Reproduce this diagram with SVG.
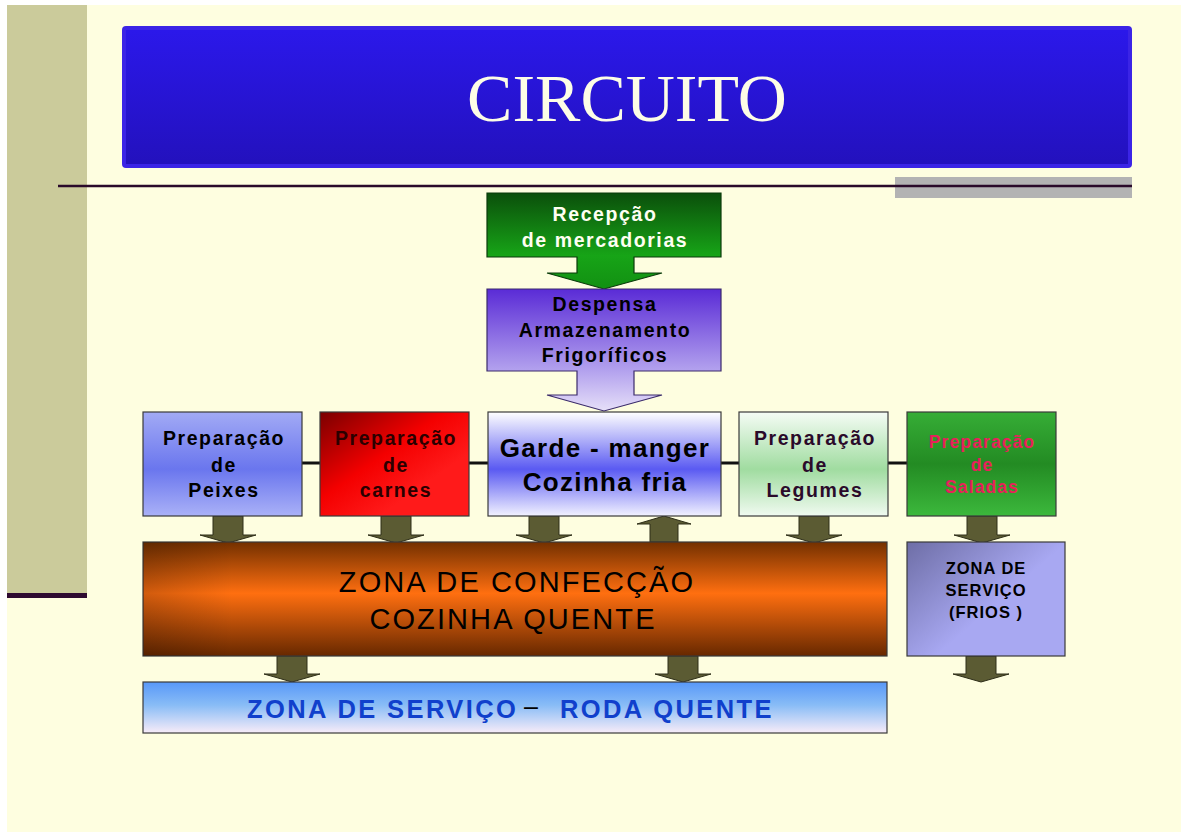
<svg xmlns="http://www.w3.org/2000/svg" width="1181" height="832" viewBox="0 0 1181 832">
<defs>
<style>
.b{font-family:"Liberation Sans",Arial,sans-serif;font-weight:bold;text-anchor:middle}
.m{font-size:19.5px;letter-spacing:1.6px}
.n{font-family:"Liberation Sans",Arial,sans-serif;text-anchor:middle}
.box{stroke:#3a3a3a;stroke-width:1.2}
.arr{fill:#5b5b33;stroke:#2e2e18;stroke-width:1}
.link{stroke:#111;stroke-width:3}
</style>
<linearGradient id="gTitle" x1="0" y1="0" x2="0" y2="1"><stop offset="0" stop-color="#2b18ea"/><stop offset="1" stop-color="#2311bd"/></linearGradient>
<linearGradient id="gRec" gradientUnits="userSpaceOnUse" x1="0" y1="193" x2="0" y2="289"><stop offset="0" stop-color="#0b4f0b"/><stop offset="0.65" stop-color="#17a417"/><stop offset="1" stop-color="#129012"/></linearGradient>
<linearGradient id="gDesp" gradientUnits="userSpaceOnUse" x1="0" y1="289" x2="0" y2="411"><stop offset="0" stop-color="#5a2bd6"/><stop offset="0.67" stop-color="#b3a2ee"/><stop offset="1" stop-color="#e6dff8"/></linearGradient>
<linearGradient id="gPeix" x1="0" y1="0" x2="0" y2="1"><stop offset="0" stop-color="#a2aaf5"/><stop offset="0.55" stop-color="#6a76ee"/><stop offset="1" stop-color="#aab1f7"/></linearGradient>
<linearGradient id="gCarn" x1="0" y1="0" x2="0.7" y2="0.7"><stop offset="0" stop-color="#7a0000"/><stop offset="0.6" stop-color="#f40000"/><stop offset="1" stop-color="#ff1a1a"/></linearGradient>
<linearGradient id="gGarde" x1="0" y1="0" x2="0" y2="1"><stop offset="0" stop-color="#ffffff"/><stop offset="0.55" stop-color="#5a5af2"/><stop offset="1" stop-color="#f2f2ff"/></linearGradient>
<linearGradient id="gLeg" x1="0" y1="0" x2="0" y2="1"><stop offset="0" stop-color="#f5fcf5"/><stop offset="0.55" stop-color="#a0dca0"/><stop offset="1" stop-color="#f0faf0"/></linearGradient>
<linearGradient id="gSal" x1="0" y1="0" x2="0" y2="1"><stop offset="0" stop-color="#36ad36"/><stop offset="0.5" stop-color="#238b23"/><stop offset="1" stop-color="#3cb83c"/></linearGradient>
<linearGradient id="gOr" x1="0" y1="0" x2="0" y2="1"><stop offset="0" stop-color="#733000"/><stop offset="0.45" stop-color="#ff6f10"/><stop offset="1" stop-color="#672800"/></linearGradient>
<linearGradient id="gOrL" x1="0" y1="0" x2="1" y2="0"><stop offset="0" stop-color="#000" stop-opacity="0.18"/><stop offset="0.12" stop-color="#000" stop-opacity="0"/></linearGradient>
<linearGradient id="gRoda" x1="0" y1="0" x2="0" y2="1"><stop offset="0" stop-color="#5898f8"/><stop offset="0.45" stop-color="#88bcf6"/><stop offset="1" stop-color="#f8ecf8"/></linearGradient>
<linearGradient id="gFrio" x1="0" y1="0" x2="0.6" y2="0.5"><stop offset="0" stop-color="#6e6ea6"/><stop offset="1" stop-color="#a8a8f2"/></linearGradient>
</defs>

<rect x="0" y="0" width="1181" height="832" fill="#ffffff"/>
<rect x="7" y="5" width="1174" height="827" fill="#fefee0"/>
<rect x="7" y="5" width="80" height="588" fill="#cbcb9b"/>
<rect x="7" y="593" width="80" height="5" fill="#2e0a30"/>

<g id="title">
<rect x="122" y="26" width="1010" height="142" rx="4" fill="#3b24e6"/>
<rect x="126" y="30" width="1002" height="134" fill="url(#gTitle)"/>
<text x="627" y="121" font-family="'Liberation Serif','Times New Roman',serif" font-size="68" fill="#fdfde6" text-anchor="middle">CIRCUITO</text>
</g>
<rect x="895" y="177" width="237" height="21" fill="#b3b3b3"/>
<line x1="58" y1="186" x2="1132" y2="186" stroke="#2a0a2a" stroke-width="2.5"/>

<g id="connectors">
<line class="link" x1="302" y1="463" x2="320" y2="463"/>
<line class="link" x1="469" y1="463" x2="488" y2="463"/>
<line class="link" x1="721" y1="463" x2="739" y2="463"/>
<line class="link" x1="888" y1="463" x2="907" y2="463"/>
<path class="arr" d="M213,516 H243 V535 H256 L228,543 L200,535 H213 Z"/>
<path class="arr" d="M381,516 H411 V535 H424 L396,543 L368,535 H381 Z"/>
<path class="arr" d="M529,516 H559 V535 H572 L544,543 L516,535 H529 Z"/>
<path class="arr" d="M799,516 H829 V535 H842 L814,543 L786,535 H799 Z"/>
<path class="arr" d="M967,516 H997 V535 H1010 L982,543 L954,535 H967 Z"/>
<path class="arr" d="M650,542 V524 H637 L664,516 L691,524 H678 V542 Z"/>
<path class="arr" d="M277,656 H307 V674 H320 L292,682 L264,674 H277 Z"/>
<path class="arr" d="M668,656 H698 V674 H711 L683,682 L655,674 H668 Z"/>
<path class="arr" d="M966,656 H996 V674 H1009 L981,682 L953,674 H966 Z"/>
</g>

<g id="recepcao">
<path d="M487,193 H721 V257 H634 V273 H662 L604,289 L547,273 H577 V257 H487 Z" fill="url(#gRec)" stroke="#0a3a0a" stroke-width="1.2"/>
<text class="b m" x="605" y="221" fill="#fffff2">Recepção</text>
<text class="b m" x="605" y="247" fill="#fffff2">de mercadorias</text>
</g>

<g id="despensa">
<path d="M487,289 H721 V371 H634 V395 H662 L604,411 L547,395 H577 V371 H487 Z" fill="url(#gDesp)" stroke="#3a2a6a" stroke-width="1.2"/>
<text class="b m" x="605" y="311" fill="#000">Despensa</text>
<text class="b m" x="605" y="337" fill="#000">Armazenamento</text>
<text class="b m" x="605" y="362" fill="#000">Frigoríficos</text>
</g>

<g id="peixes">
<rect class="box" x="143" y="412" width="159" height="104" fill="url(#gPeix)"/>
<text class="b m" x="224" y="445" fill="#000">Preparação</text>
<text class="b m" x="224" y="472" fill="#000">de</text>
<text class="b m" x="224" y="497" fill="#000">Peixes</text>
</g>

<g id="carnes">
<rect class="box" x="320" y="412" width="149" height="104" fill="url(#gCarn)"/>
<text class="b m" x="396" y="445" fill="#2a0000">Preparação</text>
<text class="b m" x="396" y="472" fill="#2a0000">de</text>
<text class="b m" x="396" y="497" fill="#2a0000">carnes</text>
</g>

<g id="garde">
<rect class="box" x="488" y="412" width="233" height="104" fill="url(#gGarde)"/>
<text class="b" x="605" y="457" font-size="26" letter-spacing="1.3" fill="#000">Garde - manger</text>
<text class="b" x="605" y="491" font-size="26" letter-spacing="1.3" fill="#000">Cozinha fria</text>
</g>

<g id="legumes">
<rect class="box" x="739" y="412" width="149" height="104" fill="url(#gLeg)"/>
<text class="b m" x="815" y="445" fill="#2a0a2a">Preparação</text>
<text class="b m" x="815" y="472" fill="#2a0a2a">de</text>
<text class="b m" x="815" y="497" fill="#2a0a2a">Legumes</text>
</g>

<g id="saladas">
<rect class="box" x="907" y="412" width="149" height="104" fill="url(#gSal)"/>
<text class="b" x="982" y="448" font-size="17.5" letter-spacing="1.1" fill="#e8205a">Preparação</text>
<text class="b" x="982" y="471" font-size="17.5" letter-spacing="1.1" fill="#e8205a">de</text>
<text class="b" x="982" y="493" font-size="17.5" letter-spacing="1.1" fill="#e8205a">Saladas</text>
</g>

<g id="confeccao">
<rect class="box" x="143" y="542" width="744" height="114" fill="url(#gOr)"/>
<rect x="143" y="542" width="744" height="114" fill="url(#gOrL)"/>
<text class="n" x="517" y="592" font-size="29" letter-spacing="2.1" fill="#000">ZONA DE CONFECÇÃO</text>
<text class="n" x="513" y="629" font-size="29" letter-spacing="2.1" fill="#000">COZINHA QUENTE</text>
</g>

<g id="frios">
<rect class="box" x="907" y="542" width="158" height="114" fill="url(#gFrio)"/>
<text class="b" x="986" y="574" font-size="16.5" letter-spacing="1" fill="#000">ZONA DE</text>
<text class="b" x="986" y="596" font-size="16.5" letter-spacing="1" fill="#000">SERVIÇO</text>
<text class="b" x="986" y="618" font-size="16.5" letter-spacing="1" fill="#000">(FRIOS )</text>
</g>

<g id="roda">
<rect class="box" x="143" y="682" width="744" height="51" fill="url(#gRoda)"/>
<text x="247" y="718" font-family="'Liberation Sans',Arial,sans-serif" font-weight="bold" font-size="25.5" letter-spacing="2.4" fill="#1040cc">ZONA DE SERVIÇO</text>
<text x="524" y="715" font-family="'Liberation Sans',Arial,sans-serif" font-size="25" fill="#000">–</text>
<text x="560" y="718" font-family="'Liberation Sans',Arial,sans-serif" font-weight="bold" font-size="25.5" letter-spacing="2.4" fill="#1040cc">RODA QUENTE</text>
</g>
</svg>
